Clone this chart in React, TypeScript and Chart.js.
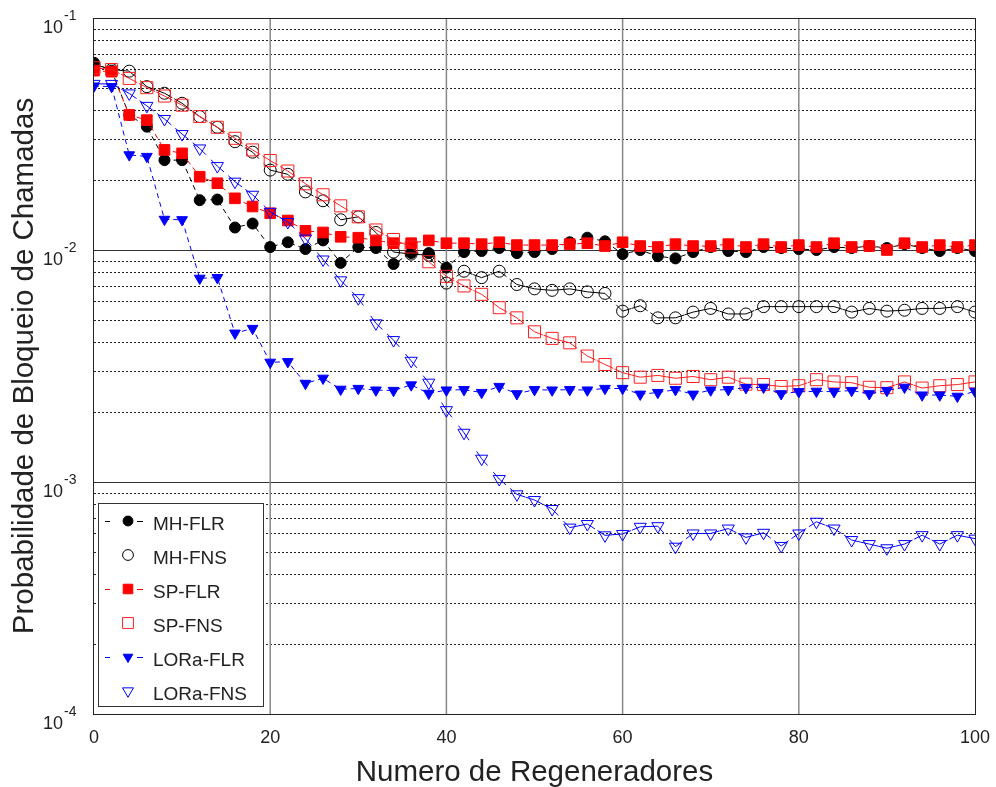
import React, { useEffect, useRef } from 'react';
import { Chart, registerables } from 'chart.js';

Chart.register(...registerables);

const FONT = '"Liberation Sans", Arial, Helvetica, sans-serif';
const TEXT = '#222222';

// x: number of regenerators
const xValues = [0, 2, 4, 6, 8, 10, 12, 14, 16, 18, 20, 22, 24, 26, 28, 30, 32, 34, 36, 38, 40, 42, 44, 46, 48, 50, 52, 54, 56, 58, 60, 62, 64, 66, 68, 70, 72, 74, 76, 78, 80, 82, 84, 86, 88, 90, 92, 94, 96, 98, 100];

const xTicks = [0, 20, 40, 60, 80, 100];
const yDecades = [-1, -2, -3, -4];

const mhFlr = [
  0.0641, 0.0593, 0.0382, 0.0340, 0.0244, 0.0244, 0.0164, 0.0165, 0.0125, 0.0130,
  0.0103, 0.0108, 0.0101, 0.0110, 0.0088, 0.0103, 0.0102, 0.0087, 0.0097, 0.0097,
  0.0084, 0.0098, 0.0099, 0.0102, 0.0097, 0.0098, 0.0101, 0.0108, 0.0113, 0.0109,
  0.0096, 0.0100, 0.0094, 0.0092, 0.0098, 0.0103, 0.0099, 0.0098, 0.0103, 0.0102,
  0.0101, 0.0100, 0.0103, 0.0102, 0.0104, 0.0102, 0.0106, 0.0102, 0.0099, 0.0102,
  0.0099,
];

const mhFns = [
  0.063, 0.060, 0.059, 0.0506, 0.0474, 0.0429, 0.0376, 0.0338, 0.0293, 0.0264,
  0.0221, 0.0212, 0.0178, 0.0163, 0.0135, 0.0139, 0.0119, 0.0098, 0.0096, 0.0095,
  0.0072, 0.0081, 0.0076, 0.0081, 0.0071, 0.0068, 0.0067, 0.0068, 0.0066, 0.0065,
  0.00545, 0.00575, 0.0051, 0.0051, 0.0054, 0.0056, 0.0053, 0.0053, 0.0057, 0.0057,
  0.0057, 0.0057, 0.0057, 0.0054, 0.0056, 0.00545, 0.0055, 0.0056, 0.0056, 0.0057,
  0.0054,
];

const spFlr = [
  0.0593, 0.0587, 0.0382, 0.0363, 0.0270, 0.0261, 0.0207, 0.0194, 0.0167, 0.0154,
  0.0144, 0.0134, 0.0121, 0.0119, 0.0114, 0.0113, 0.0110, 0.0107, 0.0107, 0.0110,
  0.0107, 0.0107, 0.0106, 0.0108, 0.0105, 0.0105, 0.0105, 0.0106, 0.0107, 0.0104,
  0.0108, 0.0104, 0.0103, 0.0106, 0.0104, 0.0104, 0.0106, 0.0103, 0.0106, 0.0103,
  0.0105, 0.0103, 0.0107, 0.0103, 0.0104, 0.0100, 0.0107, 0.0103, 0.0105, 0.0103,
  0.0105,
];

const spFns = [
  0.061, 0.060, 0.0549, 0.0501, 0.0461, 0.0421, 0.0376, 0.0338, 0.0303, 0.0270,
  0.0243, 0.0219, 0.0193, 0.0173, 0.0155, 0.0139, 0.0122, 0.0111, 0.0103, 0.0089,
  0.0077, 0.0070, 0.00644, 0.00564, 0.0051, 0.00444, 0.00416, 0.00398, 0.00349, 0.00321,
  0.00296, 0.00283, 0.00288, 0.0028, 0.00285, 0.00276, 0.00283, 0.00264, 0.00263, 0.00258,
  0.0026, 0.00276, 0.0027, 0.00268, 0.00256, 0.00255, 0.0027, 0.00254, 0.0026, 0.00263,
  0.0027,
];

const loraFlr = [
  0.0509, 0.0506, 0.0257, 0.0253, 0.01355, 0.0135, 0.00755, 0.0076, 0.00438, 0.00459,
  0.00328, 0.0033, 0.00266, 0.0028, 0.00251, 0.00253, 0.00249, 0.00248, 0.00262, 0.00241,
  0.00249, 0.0025, 0.00243, 0.00258, 0.0024, 0.0025, 0.00249, 0.0025, 0.00249, 0.00253,
  0.00253, 0.00239, 0.00243, 0.0025, 0.00239, 0.00249, 0.0025, 0.00255, 0.00256, 0.0024,
  0.00245, 0.00246, 0.00245, 0.00248, 0.0024, 0.00248, 0.00256, 0.00237, 0.00237, 0.00234,
  0.00246,
];

const loraFns = [
  0.052, 0.052, 0.0473, 0.0418, 0.0367, 0.0316, 0.0274, 0.0230, 0.0197, 0.0173,
  0.0146, 0.0132, 0.0112, 0.0091, 0.0074, 0.0062, 0.00483, 0.00409, 0.00333, 0.00268,
  0.00204, 0.00163, 0.00126, 0.00103, 0.000885, 0.000836, 0.000765, 0.000636, 0.000659, 0.000589,
  0.000597, 0.000641, 0.000645, 0.000526, 0.0006, 0.0006, 0.00063, 0.000577, 0.000604, 0.00053,
  0.0006, 0.000674, 0.00063, 0.000562, 0.00054, 0.000518, 0.00054, 0.00059, 0.00054, 0.00059,
  0.00057,
];

const seriesLabels = ['MH-FLR', 'MH-FNS', 'SP-FLR', 'SP-FNS', 'LORa-FLR', 'LORa-FNS'];
const seriesData = [mhFlr, mhFns, spFlr, spFns, loraFlr, loraFns];
const seriesColors = ['#000000', '#000000', '#ff0000', '#ff2020', '#0000ff', '#0000ff'];
const seriesShapes = ['circle', 'circle', 'rect', 'rect', 'triangle', 'triangle'];
const seriesFilled = [true, false, true, false, true, false];
const seriesRadius = [5.5, 6, 7.5, 8.5, 6.2, 7];

const xTitle = 'Numero de Regeneradores';
const yTitle = 'Probabilidade de Bloqueio de Chamadas';

function fnsDash(ctx: any): number[] {
  const L = Math.hypot(ctx.p1.x - ctx.p0.x, ctx.p1.y - ctx.p0.y);
  const d = 9;
  if (L <= 2 * d) return [];
  return [d, L - 2 * d, d, 0];
}

function drawMarker(ctx: CanvasRenderingContext2D, shape: string, x: number, y: number, r: number, color: string, filled: boolean) {
  ctx.save();
  ctx.setLineDash([]);
  ctx.lineWidth = 1;
  ctx.strokeStyle = color;
  ctx.fillStyle = color;
  ctx.beginPath();
  if (shape === 'circle') {
    ctx.arc(x, y, r, 0, Math.PI * 2);
  } else if (shape === 'rect') {
    const s = r * Math.SQRT1_2;
    ctx.rect(x - s, y - s, 2 * s, 2 * s);
  } else {
    for (let k = 0; k < 3; k++) {
      const a = Math.PI + (k * 2 * Math.PI) / 3;
      const px = x + Math.sin(a) * r;
      const py = y - Math.cos(a) * r;
      if (k === 0) ctx.moveTo(px, py);
      else ctx.lineTo(px, py);
    }
    ctx.closePath();
  }
  if (filled) ctx.fill();
  ctx.stroke();
  ctx.restore();
}

const decorPlugin = {
  id: 'decor',
  beforeDatasetsDraw(chart: any) {
    const { ctx, chartArea: a, scales } = chart;
    const ys = scales.y;
    const xs = scales.x;
    ctx.save();
    // minor dotted horizontal grid
    ctx.lineWidth = 1;
    ctx.strokeStyle = '#222';
    ctx.setLineDash([2, 2]);
    for (let e = -4; e <= -2; e++) {
      for (let m = 2; m <= 9; m++) {
        const y = Math.round(ys.getPixelForValue(m * Math.pow(10, e))) + 0.5;
        ctx.beginPath();
        ctx.moveTo(a.left, y);
        ctx.lineTo(a.right, y);
        ctx.stroke();
      }
    }
    ctx.setLineDash([]);
    // decade lines
    ctx.strokeStyle = '#333';
    ctx.lineWidth = 1.2;
    for (const e of [-2, -3]) {
      const y = Math.round(ys.getPixelForValue(Math.pow(10, e))) + 0.5;
      ctx.beginPath();
      ctx.moveTo(a.left, y);
      ctx.lineTo(a.right, y);
      ctx.stroke();
    }
    // vertical major grid
    ctx.strokeStyle = '#888';
    ctx.lineWidth = 1.5;
    for (const v of xTicks) {
      if (v === 0 || v === 100) continue;
      const x = xs.getPixelForValue(v);
      ctx.beginPath();
      ctx.moveTo(x, a.top);
      ctx.lineTo(x, a.bottom);
      ctx.stroke();
    }
    ctx.restore();
  },
  afterDraw(chart: any) {
    const { ctx, chartArea: a, scales } = chart;
    const ys = scales.y;
    const xs = scales.x;
    ctx.save();
    // axes box
    ctx.strokeStyle = '#222';
    ctx.lineWidth = 1;
    ctx.setLineDash([]);
    ctx.strokeRect(Math.round(a.left) - 0.5, Math.round(a.top) + 0.5, Math.round(a.right - a.left) + 1, Math.round(a.bottom - a.top));

    ctx.fillStyle = TEXT;
    // x tick labels
    ctx.font = `18px ${FONT}`;
    ctx.textAlign = 'center';
    ctx.textBaseline = 'alphabetic';
    for (const v of xTicks) {
      ctx.fillText(String(v), xs.getPixelForValue(v), 743);
    }
    // y tick labels 10^e
    for (const e of yDecades) {
      const y = ys.getPixelForValue(Math.pow(10, e));
      ctx.font = `18px ${FONT}`;
      ctx.textAlign = 'right';
      ctx.fillText('10', 63, y + 15);
      ctx.font = `14px ${FONT}`;
      ctx.textAlign = 'left';
      ctx.fillText(String(e), 64, y + 2);
    }
    // titles
    ctx.font = `29.5px ${FONT}`;
    ctx.textAlign = 'center';
    ctx.fillText(xTitle, (a.left + a.right) / 2, 781);
    ctx.save();
    ctx.translate(33, (a.top + a.bottom) / 2);
    ctx.rotate(-Math.PI / 2);
    ctx.fillText(yTitle, 0, 0);
    ctx.restore();

    // legend
    const lx = 98.5, ly = 503.5, lw = 165, lh = 203;
    ctx.fillStyle = '#ffffff';
    ctx.fillRect(lx, ly, lw, lh);
    ctx.strokeStyle = '#333';
    ctx.lineWidth = 1;
    ctx.strokeRect(lx, ly, lw, lh);
    const baseY = 530;
    const step = 34;
    for (let i = 0; i < seriesLabels.length; i++) {
      const by = baseY + i * step;
      const my = by - 9;
      const col = seriesColors[i];
      if (seriesFilled[i]) {
        ctx.strokeStyle = col;
        ctx.lineWidth = 1;
        ctx.beginPath();
        ctx.moveTo(105, my + 0.5);
        ctx.lineTo(110, my + 0.5);
        ctx.moveTo(137, my + 0.5);
        ctx.lineTo(143, my + 0.5);
        ctx.stroke();
      }
      drawMarker(ctx, seriesShapes[i], 128, my, seriesRadius[i] * 0.9, col, seriesFilled[i]);
      ctx.fillStyle = TEXT;
      ctx.font = `19px ${FONT}`;
      ctx.textAlign = 'left';
      ctx.fillText(seriesLabels[i], 153, by);
    }
    ctx.restore();
  },
};

export default function App() {
  const canvasRef = useRef<HTMLCanvasElement | null>(null);

  useEffect(() => {
    document.body.style.margin = '0';
    const canvas = canvasRef.current;
    if (!canvas) return;
    const datasets = seriesLabels.map((label, i) => {
      const flr = seriesFilled[i];
      const ds: any = {
        label,
        data: xValues.map((x, k) => ({ x, y: seriesData[i][k] })),
        borderColor: seriesColors[i],
        backgroundColor: seriesColors[i],
        borderWidth: 1,
        pointStyle: seriesShapes[i],
        pointRadius: seriesRadius[i],
        pointRotation: seriesShapes[i] === 'triangle' ? 180 : 0,
        pointBackgroundColor: flr ? seriesColors[i] : 'rgba(0,0,0,0)',
        pointBorderColor: seriesColors[i],
        pointBorderWidth: 1,
        showLine: true,
        fill: false,
        tension: 0,
        order: seriesLabels.length - i,
      };
      if (flr) ds.borderDash = [5, 4];
      else ds.segment = { borderDash: fnsDash };
      return ds;
    });

    const chart = new Chart(canvas, {
      type: 'line',
      data: { datasets },
      options: {
        animation: false,
        responsive: false,
        devicePixelRatio: 1,
        layout: { padding: { top: 18, right: 21, left: 0, bottom: 0 } },
        plugins: {
          legend: { display: false },
          tooltip: { enabled: false },
          title: { display: false },
        },
        scales: {
          x: {
            type: 'linear',
            min: 0,
            max: 100,
            grid: { display: false },
            border: { display: false },
            ticks: { display: false },
            afterFit: (s: any) => { s.height = 73; },
          },
          y: {
            type: 'logarithmic',
            min: 1e-4,
            max: 1e-1,
            grid: { display: false },
            border: { display: false },
            ticks: { display: false },
            afterFit: (s: any) => { s.width = 94; },
          },
        },
      } as any,
      plugins: [decorPlugin],
    });
    return () => chart.destroy();
  }, []);

  return (
    <div style={{ width: 996, height: 787, background: '#fff' }}>
      <canvas ref={canvasRef} width={996} height={787} style={{ display: 'block' }} />
    </div>
  );
}
